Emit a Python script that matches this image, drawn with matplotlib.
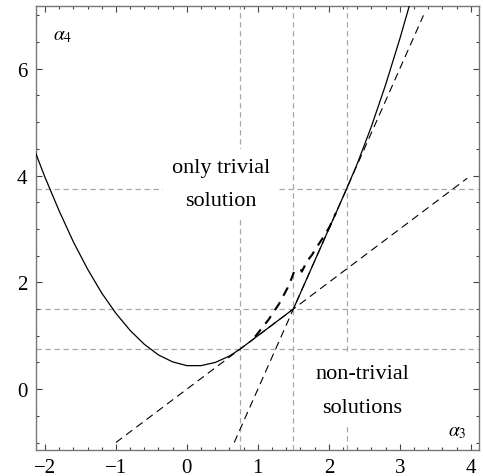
import matplotlib
matplotlib.use("Agg")
import matplotlib.pyplot as plt
from matplotlib.ticker import MultipleLocator

plt.rcParams['font.family'] = ['Liberation Serif', 'DejaVu Serif']
plt.rcParams['mathtext.fontset'] = 'stix'

# --- data ---
# solid boundary curve
curve_x = [-2.13, -2.0, -1.8, -1.6, -1.4, -1.2, -1.0, -0.8, -0.6, -0.4, -0.2,
           0.0, 0.2, 0.4, 0.6, 0.75, 1.5, 2.25, 2.4, 2.6, 2.8, 3.0, 3.13, 3.2]
curve_y = [4.42, 3.97, 3.34, 2.76, 2.25, 1.80, 1.42, 1.10, 0.84, 0.64, 0.51,
           0.44, 0.44, 0.50, 0.62, 0.75, 1.50, 3.75, 4.22, 4.92, 5.70, 6.56, 7.16, 7.50]

# heavy dashed curve
dcurve_x = [0.96, 1.15, 1.30, 1.42, 1.48, 1.51, 1.56, 1.61, 1.62, 1.69, 1.76,
            1.85, 1.90, 1.97, 2.01, 2.10]
dcurve_y = [0.98, 1.30, 1.60, 1.90, 2.09, 2.20, 2.24, 2.23, 2.20, 2.39, 2.51,
            2.70, 2.80, 2.95, 3.04, 3.30]

# straight dashed lines (end points)
line1_x = [-1.0, 3.95]
line1_y = [-1.0, 3.95]
line2_x = [0.667, 3.333]
line2_y = [-1.0, 7.0]

# reference grid lines
vgrid = [0.75, 1.5, 2.25]
hgrid = [0.75, 1.5, 3.75]

xticks = [-2, -1, 0, 1, 2, 3, 4]
yticks = [0, 2, 4, 6]

labels = [("only trivial\nsolution", 0.48, 3.84),
          ("non-trivial\nsolutions", 2.47, -0.03)]

# --- figure ---
W, H = 483, 477
fig = plt.figure(figsize=(W / 100, H / 100), dpi=100)
ax = fig.add_axes([35.7 / W, 1 - 451 / H, (479.3 - 35.7) / W, (451 - 7.3) / H])
ax.set_xlim(-2.13, 4.12)
ax.set_ylim(-1.14, 7.17)

gcol = '#a8a8a8'
for v in vgrid:
    ax.axvline(v, color=gcol, lw=0.9, dashes=(4.3, 2.9), zorder=1)
for h in hgrid:
    ax.axhline(h, color=gcol, lw=0.9, dashes=(4.3, 2.9), zorder=1)

for txt, tx, ty in labels:
    ax.text(tx, ty, txt, ha='center', va='center', fontsize=16,
            linespacing=2.05, zorder=2,
            bbox=dict(boxstyle='square,pad=0.4', fc='white', ec='none'))

ax.plot(line1_x, line1_y, color='black', lw=0.8, dashes=(7, 4.5), zorder=3)
ax.plot(line2_x, line2_y, color='black', lw=0.8, dashes=(7, 4.5), zorder=3)
ax.plot(dcurve_x, dcurve_y, color='black', lw=1.5, dashes=(4.5, 3.5), zorder=3)
ax.plot(curve_x, curve_y, color='black', lw=0.9, zorder=4)

ax.text(-1.89, 6.63, r'$\alpha_4$', fontsize=14, ha='left', va='center')
ax.text(3.68, -0.80, r'$\alpha_3$', fontsize=14, ha='left', va='center')

ax.set_xticks(xticks)
ax.set_yticks(yticks)
ax.set_xticklabels([str(t).replace('-', '\u2212') for t in xticks])
ax.set_yticklabels([str(t).replace('-', '\u2212') for t in yticks])
ax.xaxis.set_minor_locator(MultipleLocator(0.2))
ax.yaxis.set_minor_locator(MultipleLocator(0.5))
ax.tick_params(which='both', direction='in', top=True, right=True,
               color='#444444', width=0.8, labelsize=15)
ax.tick_params(which='major', length=4)
ax.tick_params(which='minor', length=2)
ax.tick_params(axis='x', pad=6)
ax.tick_params(axis='y', pad=6)
for s in ax.spines.values():
    s.set_color('#777777')
    s.set_linewidth(1.0)

fig.savefig('out.png', dpi=100)
